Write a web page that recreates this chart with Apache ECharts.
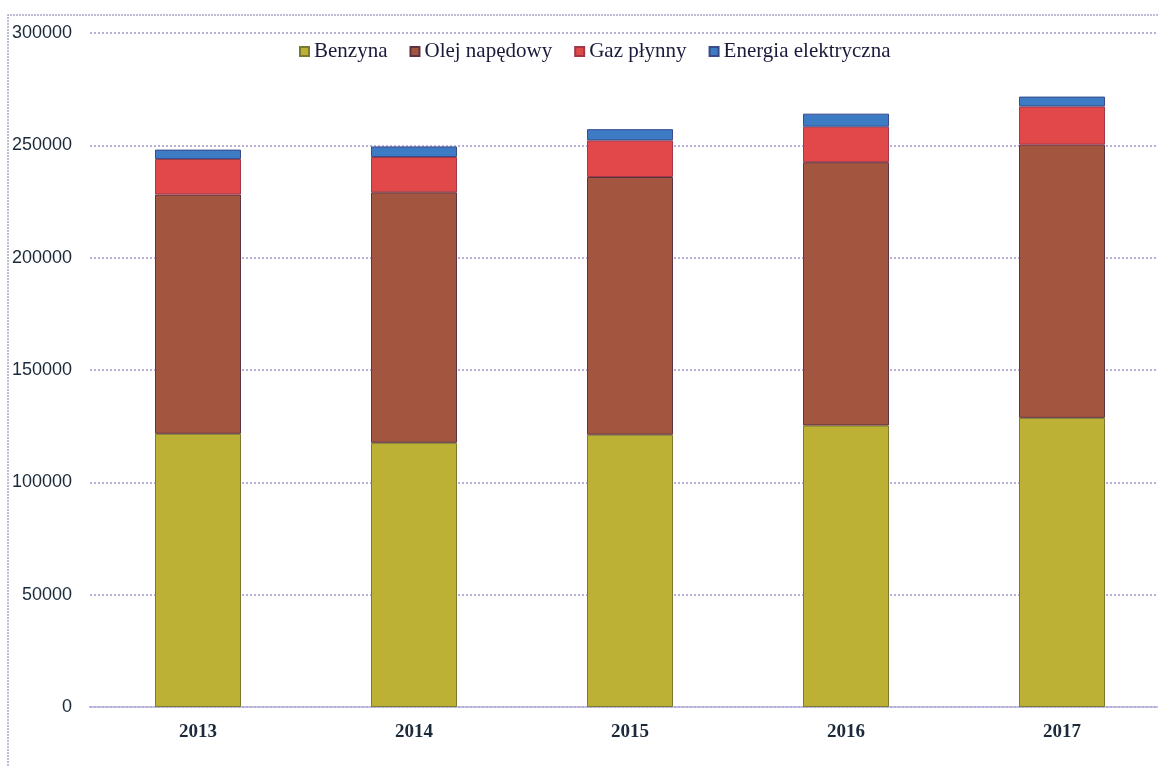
<!DOCTYPE html>
<html><head><meta charset="utf-8">
<script src="https://cdn.jsdelivr.net/npm/echarts@6/dist/echarts.min.js"></script>
<style>html,body{margin:0;padding:0;background:#fff}#c{width:1158px;height:766px}</style>
</head><body><div id="c"></div>
<script>
var categories = ['2013','2014','2015','2016','2017'];
var benzyna = [121600, 117600, 121200, 125300, 128700];
var olej = [106500, 111500, 114700, 117200, 121600];
var gaz = [15800, 15700, 16300, 15800, 17000];
var energia = [4200, 4700, 5000, 5800, 4400];
var seriesNames = ['Benzyna','Olej napędowy','Gaz płynny','Energia elektryczna'];
var yTicks = [0, 50000, 100000, 150000, 200000, 250000, 300000];

var colors = ['#bcb035','#a2553f','#e0484a','#3d7bc4'];
var borders = ['#7a7a30','#5e3440','#a03848','#3a4a8a'];
var data = [benzyna, olej, gaz, energia];
var chart = echarts.init(document.getElementById('c'));
chart.setOption({
  animation: false,
  backgroundColor: '#fff',
  graphic: [{type:'polyline', shape:{points:[[8,766],[8,15],[1158,15]]}, style:{stroke:'#a8a8c8', lineWidth:1.5, lineDash:[2,1], fill:null}}],
  legend: {
    top: 36, left: 294, itemWidth: 9, itemHeight: 9, itemGap: 22,
    icon: 'rect',
    textStyle: {fontFamily: 'Liberation Serif', fontSize: 21, color: '#1a1a3a'},
    data: seriesNames
  },
  grid: {left: 90, width: 1080, top: 33, bottom: 59, outerBoundsMode: 'none', containLabel: false},
  xAxis: {
    type: 'category', data: categories,
    axisLine: {show: true, lineStyle: {color: '#b0b0d8', type: 'dotted', width: 2}},
    axisTick: {show: false},
    axisLabel: {fontFamily: 'Liberation Serif', fontSize: 19, fontWeight: 'bold', color: '#1a2a3a', margin: 16}
  },
  yAxis: {
    type: 'value', min: 0, max: 300000, interval: 50000,
    axisLine: {show: false}, axisTick: {show: false},
    splitLine: {lineStyle: {color: '#b8b0d8', type: 'dotted', width: 2}},
    axisLabel: {fontFamily: 'Liberation Sans', fontSize: 18, color: '#1a2a3a', margin: 18,
      formatter: function(v){ return yTicks.indexOf(v) >= 0 ? String(v) : ''; }}
  },
  series: seriesNames.map(function(n, i){
    return {
      name: n, type: 'bar', stack: 'a', barWidth: 86,
      data: data[i],
      itemStyle: {color: colors[i], borderColor: borders[i], borderWidth: 1}
    };
  })
});
</script></body></html>
